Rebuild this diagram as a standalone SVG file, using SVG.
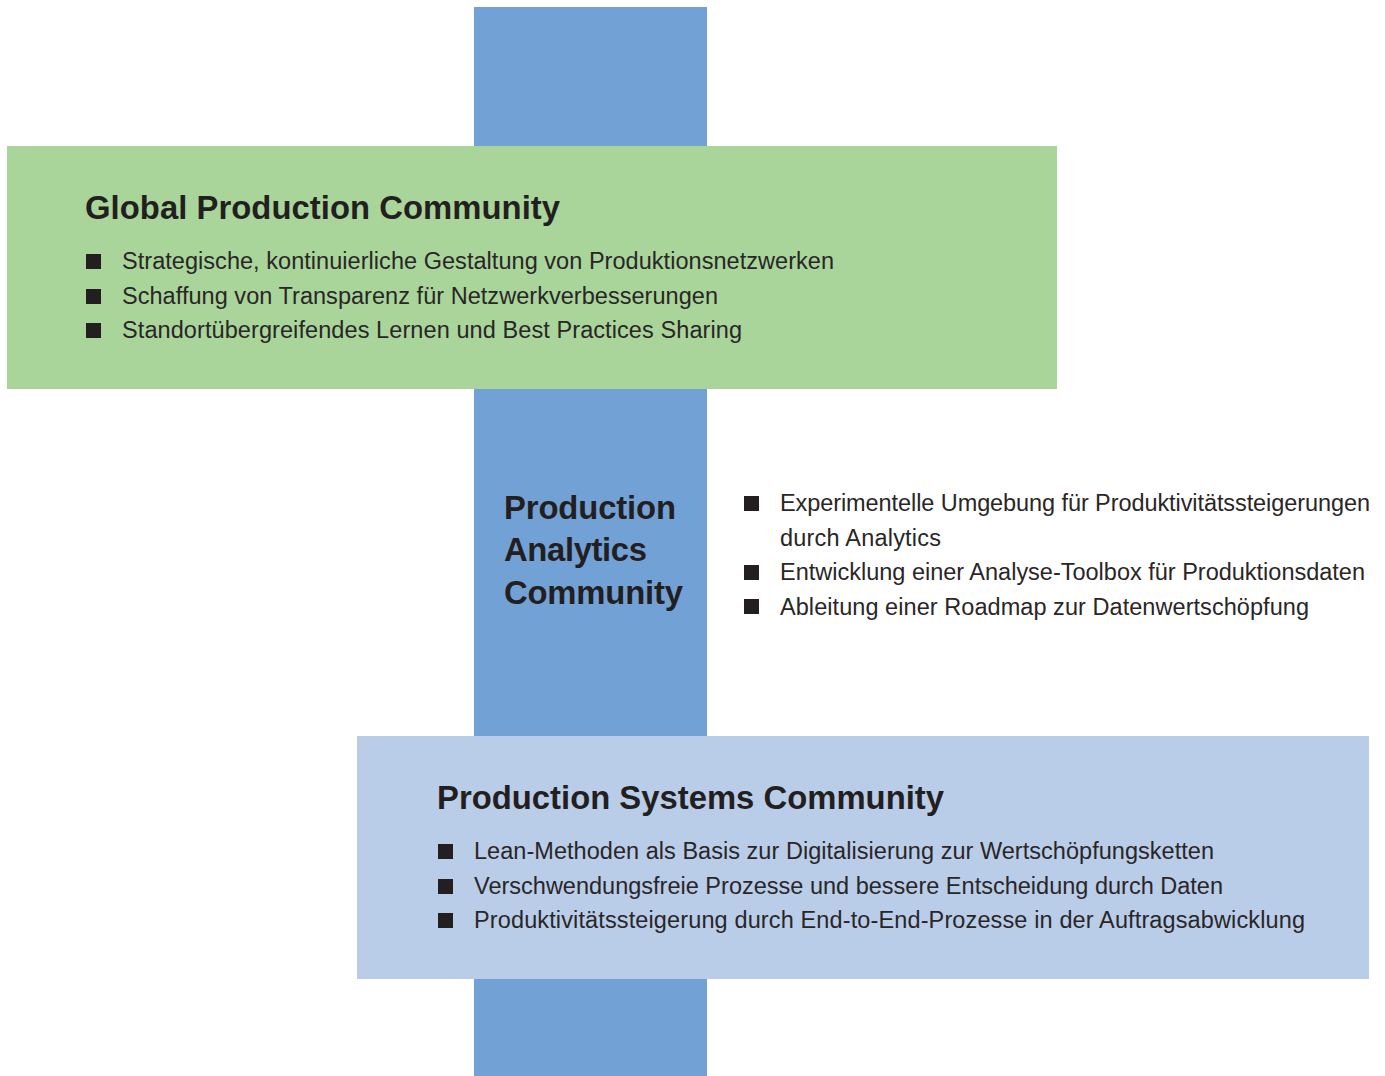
<svg xmlns="http://www.w3.org/2000/svg" width="1385" height="1076" viewBox="0 0 1385 1076">
  <style>
    .title { font-family: "Liberation Sans", Arial, sans-serif; font-weight: bold; font-size: 32.8px; fill: #231f20; }
    .item { font-family: "Liberation Sans", Arial, sans-serif; font-size: 23.5px; fill: #2a2627; }
    .bullet { fill: #231f20; }
  </style>
  <rect width="1385" height="1076" fill="#ffffff"/>

  <!-- vertical spine -->
  <g id="spine">
    <rect x="474" y="7" width="233" height="1069" fill="#72a1d6"/>
  </g>

  <g id="global-production">
    <rect x="7" y="146" width="1050" height="243" fill="#a9d59b"/>
    <text class="title" x="85" y="219" textLength="475">Global Production Community</text>
    <rect class="bullet" x="86" y="254" width="15" height="15"/>
    <rect class="bullet" x="86" y="289" width="15" height="15"/>
    <rect class="bullet" x="86" y="323" width="15" height="15"/>
    <text class="item" x="122" y="269" textLength="712">Strategische, kontinuierliche Gestaltung von Produktionsnetzwerken</text>
    <text class="item" x="122" y="304" textLength="596">Schaffung von Transparenz für Netzwerkverbesserungen</text>
    <text class="item" x="122" y="338" textLength="620">Standortübergreifendes Lernen und Best Practices Sharing</text>
  </g>

  <g id="production-analytics">
    <text class="title" x="504" y="519" textLength="172">Production</text>
    <text class="title" x="504" y="561" textLength="143">Analytics</text>
    <text class="title" x="504" y="604" textLength="179">Community</text>
    <rect class="bullet" x="744" y="496" width="15" height="15"/>
    <rect class="bullet" x="744" y="565" width="15" height="15"/>
    <rect class="bullet" x="744" y="599" width="15" height="15"/>
    <text class="item" x="780" y="511" textLength="590">Experimentelle Umgebung für Produktivitätssteigerungen</text>
    <text class="item" x="780" y="546" textLength="161">durch Analytics</text>
    <text class="item" x="780" y="580" textLength="585">Entwicklung einer Analyse-Toolbox für Produktionsdaten</text>
    <text class="item" x="780" y="615" textLength="529">Ableitung einer Roadmap zur Datenwertschöpfung</text>
  </g>

  <g id="production-systems">
    <rect x="357" y="736" width="1012" height="243" fill="#b9cde9"/>
    <text class="title" x="437" y="809" textLength="507">Production Systems Community</text>
    <rect class="bullet" x="438" y="844" width="15" height="15"/>
    <rect class="bullet" x="438" y="879" width="15" height="15"/>
    <rect class="bullet" x="438" y="913" width="15" height="15"/>
    <text class="item" x="474" y="859" textLength="740">Lean-Methoden als Basis zur Digitalisierung zur Wertschöpfungsketten</text>
    <text class="item" x="474" y="894" textLength="749">Verschwendungsfreie Prozesse und bessere Entscheidung durch Daten</text>
    <text class="item" x="474" y="928" textLength="831">Produktivitätssteigerung durch End-to-End-Prozesse in der Auftragsabwicklung</text>
  </g>

  <g id="connectors"/>
</svg>
